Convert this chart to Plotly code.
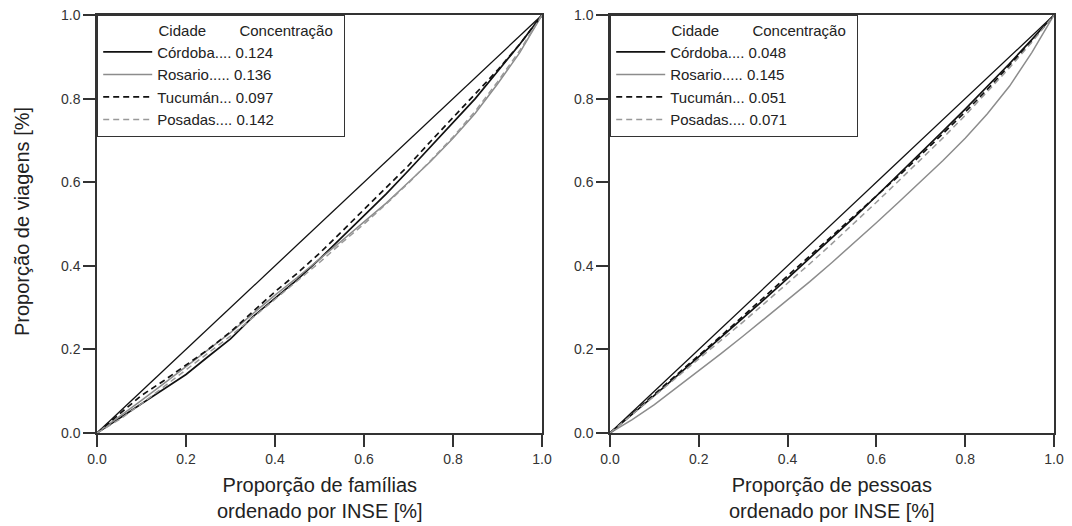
import plotly.graph_objects as go

x_vals = [0.0, 0.05, 0.1, 0.15, 0.2, 0.25, 0.3, 0.35, 0.4, 0.45, 0.5,
          0.55, 0.6, 0.65, 0.7, 0.75, 0.8, 0.85, 0.9, 0.95, 1.0]

# Left panel: proportion of families ordered by INSE
fam_cordoba = [0.0, 0.035, 0.072, 0.105, 0.14, 0.183, 0.225, 0.278, 0.322, 0.367, 0.416,
               0.468, 0.52, 0.572, 0.628, 0.685, 0.742, 0.8, 0.865, 0.93, 1.0]
fam_rosario = [0.0, 0.038, 0.078, 0.118, 0.158, 0.198, 0.24, 0.285, 0.33, 0.372, 0.415,
               0.46, 0.505, 0.55, 0.6, 0.65, 0.705, 0.765, 0.835, 0.91, 1.0]
fam_tucuman = [0.0, 0.045, 0.09, 0.125, 0.162, 0.2, 0.242, 0.29, 0.338, 0.382, 0.43,
               0.482, 0.535, 0.588, 0.64, 0.698, 0.755, 0.81, 0.868, 0.93, 1.0]
fam_posadas = [0.0, 0.032, 0.07, 0.11, 0.15, 0.19, 0.232, 0.276, 0.32, 0.362, 0.408,
               0.455, 0.5, 0.548, 0.598, 0.652, 0.708, 0.77, 0.84, 0.915, 1.0]

# Right panel: proportion of persons ordered by INSE
pes_cordoba = [0.0, 0.044, 0.09, 0.136, 0.182, 0.228, 0.275, 0.322, 0.37, 0.418, 0.466,
               0.516, 0.567, 0.618, 0.67, 0.722, 0.775, 0.829, 0.884, 0.941, 1.0]
pes_rosario = [0.0, 0.032, 0.068, 0.108, 0.15, 0.19, 0.232, 0.275, 0.318, 0.362, 0.408,
               0.455, 0.503, 0.552, 0.602, 0.652, 0.705, 0.764, 0.83, 0.91, 1.0]
pes_tucuman = [0.0, 0.046, 0.093, 0.14, 0.186, 0.232, 0.28, 0.328, 0.376, 0.424, 0.47,
               0.518, 0.566, 0.615, 0.665, 0.716, 0.768, 0.822, 0.879, 0.938, 1.0]
pes_posadas = [0.0, 0.044, 0.088, 0.132, 0.176, 0.22, 0.266, 0.312, 0.358, 0.405, 0.453,
               0.502, 0.552, 0.603, 0.654, 0.706, 0.76, 0.816, 0.874, 0.935, 1.0]

cities = ["Córdoba....", "Rosario.....", "Tucumán...", "Posadas...."]
conc_fam = ["0.124", "0.136", "0.097", "0.142"]
conc_pes = ["0.048", "0.145", "0.051", "0.071"]
diag = [0.0, 1.0]
tick_vals = [0.0, 0.2, 0.4, 0.6, 0.8, 1.0]

styles = [
    dict(color="#111111", width=1.7, dash="solid"),
    dict(color="#8c8c8c", width=1.5, dash="solid"),
    dict(color="#111111", width=1.7, dash="6px,4px"),
    dict(color="#999999", width=1.5, dash="6px,4px"),
]

FONT = "Arial, Liberation Sans, sans-serif"
fig = go.Figure()

panels = [
    ("x", "y", "legend", [fam_cordoba, fam_rosario, fam_tucuman, fam_posadas], conc_fam),
    ("x2", "y2", "legend2", [pes_cordoba, pes_rosario, pes_tucuman, pes_posadas], conc_pes),
]
for xa, ya, lg, series, conc in panels:
    fig.add_trace(go.Scatter(x=diag, y=diag, mode="lines", xaxis=xa, yaxis=ya,
                             line=dict(color="#111111", width=1.3), showlegend=False,
                             hoverinfo="skip"))
    for name, vals, c, st in zip(cities, series, conc, styles):
        fig.add_trace(go.Scatter(x=x_vals, y=vals, mode="lines", xaxis=xa, yaxis=ya,
                                 name=f"{name} {c}", line=st, legend=lg))

W, H = 1072, 526
ML, MR, MT, MB = 97, 18, 15, 93
PW = W - ML - MR
x_dom1 = [0.0, (542 - ML) / PW]
x_dom2 = [(610 - ML) / PW, 1.0]
y_dom = [0.0, 1.0]

axis_common = dict(range=[0, 1], tickvals=tick_vals, tickformat=".1f", showgrid=False,
                   zeroline=False, showline=True, mirror=True, linecolor="#333333",
                   linewidth=1.5, ticks="outside", ticklen=12, tickwidth=1.5,
                   tickcolor="#333333", automargin=False,
                   tickfont=dict(family=FONT, size=14, color="#333333"))

title_font = dict(family=FONT, size=20, color="#222222")
nb = "\u00a0"
legend_common = dict(bgcolor="white", bordercolor="#333333", borderwidth=1.2,
                     font=dict(family=FONT, size=15, color="#222222"),
                     xanchor="left", yanchor="top", tracegroupgap=0, itemwidth=49,
                     title=dict(text=nb * 14 + "Cidade" + nb * 8 + "Concentração" + nb * 2,
                                font=dict(family=FONT, size=15, color="#222222"),
                                side="top"))

ph = H - MT - MB
annotations = [
    dict(text="Proporção de famílias<br>ordenado por INSE [%]", xref="paper", yref="paper",
         x=sum(x_dom1) / 2, y=(433 - 498) / ph, xanchor="center", yanchor="middle",
         showarrow=False, font=title_font),
    dict(text="Proporção de pessoas<br>ordenado por INSE [%]", xref="paper", yref="paper",
         x=sum(x_dom2) / 2, y=(433 - 498) / ph, xanchor="center", yanchor="middle",
         showarrow=False, font=title_font),
    dict(text="Proporção de viagens [%]", xref="paper", yref="paper",
         x=(22 - ML) / PW, y=(433 - 222) / ph, xanchor="center", yanchor="middle",
         textangle=-90, showarrow=False, font=title_font),
]

fig.update_layout(
    width=W, height=H,
    margin=dict(l=ML, r=MR, t=MT, b=MB),
    paper_bgcolor="white", plot_bgcolor="white",
    xaxis=dict(domain=x_dom1, anchor="y", **axis_common),
    yaxis=dict(domain=y_dom, anchor="x", **axis_common),
    xaxis2=dict(domain=x_dom2, anchor="y2", **axis_common),
    yaxis2=dict(domain=y_dom, anchor="x2", **axis_common),
    legend=dict(x=x_dom1[0], y=1.0, **legend_common),
    legend2=dict(x=x_dom2[0], y=1.0, **legend_common),
    annotations=annotations,
)

fig.write_html("out.html", config={"displayModeBar": False},
               post_script="document.body.style.margin='0';document.body.style.overflow='hidden';")
